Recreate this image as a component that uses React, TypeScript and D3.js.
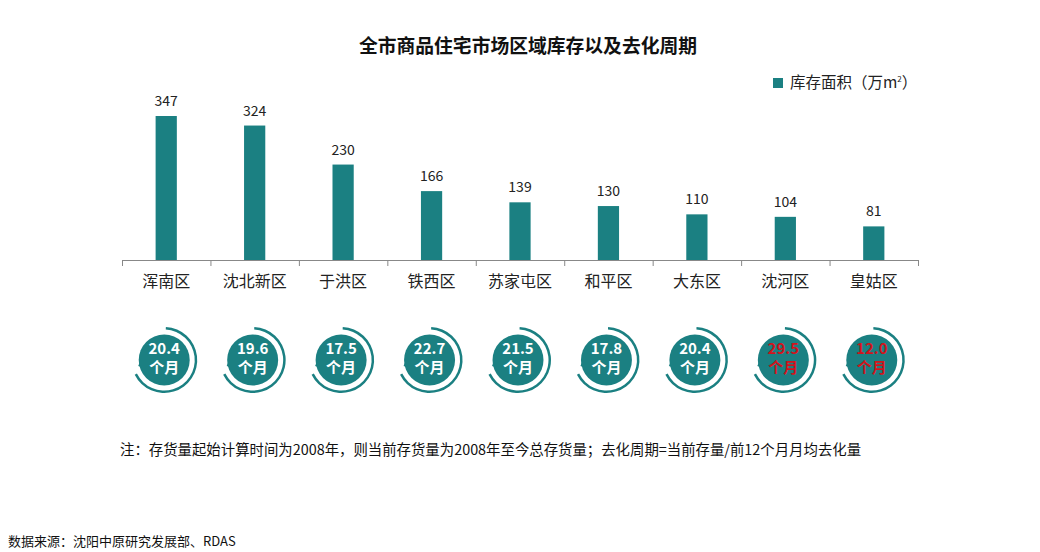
import React from "react";
import * as d3 from "d3";

const categories = ["浑南区", "沈北新区", "于洪区", "铁西区", "苏家屯区", "和平区", "大东区", "沈河区", "皇姑区"];
const inventory = [347, 324, 230, 166, 139, 130, 110, 104, 81];
const cycleMonths = ["20.4", "19.6", "17.5", "22.7", "21.5", "17.8", "20.4", "29.5", "12.0"];
const highlighted = [false, false, false, false, false, false, false, true, true];

const W = 1040;
const H = 552;
const TEAL = "#1b8082";
const FONT = "'Noto Sans CJK SC', 'Microsoft YaHei', sans-serif";

export default function App() {
  const x = d3.scaleBand<string>().domain(categories).range([122, 918]).paddingInner(0).paddingOuter(0);
  const y = d3.scaleLinear().domain([0, 347]).range([260, 116]);
  const bw = x.bandwidth() * 0.24;
  const ticks = categories.map((c) => x(c)!).concat([918]);
  const arc = d3.arc()({ innerRadius: 30.5, outerRadius: 33, startAngle: 0.05, endAngle: 4.25 } as any) as string;
  const cy = 360;
  return (
    <svg width={W} height={H} style={{ position: "absolute", left: 0, top: 0, background: "#fff" }} fontFamily={FONT}>
      <rect width={W} height={H} fill="#fff" />
      <text x={528} y={53} textAnchor="middle" fontSize={18.8} fontWeight="bold" fill="#111">
        全市商品住宅市场区域库存以及去化周期
      </text>
      <rect x={773} y={78} width={10} height={10} fill={TEAL} />
      <text x={790} y={88} fontSize={15.5} fill="#222">
        库存面积（万m<tspan fontSize={8} dy={-6}>2</tspan><tspan dy={6}>）</tspan>
      </text>
      {categories.map((c, i) => {
        const cx = x(c)! + x.bandwidth() / 2;
        return (
          <g key={c}>
            <rect x={cx - bw / 2} y={y(inventory[i])} width={bw} height={260 - y(inventory[i])} fill={TEAL} />
            <text x={cx} y={y(inventory[i]) - 10} textAnchor="middle" fontSize={14} fill="#222">
              {inventory[i]}
            </text>
            <text x={cx} y={287} textAnchor="middle" fontSize={16} fill="#222">
              {c}
            </text>
          </g>
        );
      })}
      <line x1={122} x2={918} y1={260.5} y2={260.5} stroke="#888" strokeWidth={1} />
      {ticks.map((t, i) => (
        <line key={i} x1={t + 0.5} x2={t + 0.5} y1={260} y2={266} stroke="#888" strokeWidth={1} />
      ))}
      {categories.map((c, i) => {
        const cx = x(c)! + x.bandwidth() / 2 - 2;
        return (
          <g key={"c" + c} transform={`translate(${cx},${cy})`}>
            <path d={arc} fill={TEAL} />
            <path d="M-26,6 L-21,-6 L-14,10 Z" fill={TEAL} />
            <circle r={25.5} fill={TEAL} />
            <text y={-6} textAnchor="middle" fontSize={15} fontWeight="bold" fill={highlighted[i] ? "#d0141c" : "#fff"}>
              {cycleMonths[i]}
            </text>
            <text y={13} textAnchor="middle" fontSize={15} fontWeight="bold" fill={highlighted[i] ? "#d0141c" : "#fff"}>
              个月
            </text>
          </g>
        );
      })}
      <text x={120} y={455} fontSize={14.4} fill="#111">
        注：存货量起始计算时间为2008年，则当前存货量为2008年至今总存货量；去化周期=当前存量/前12个月月均去化量
      </text>
      <text x={8} y={546} fontSize={13} fill="#111">
        数据来源：沈阳中原研究发展部、RDAS
      </text>
    </svg>
  );
}
